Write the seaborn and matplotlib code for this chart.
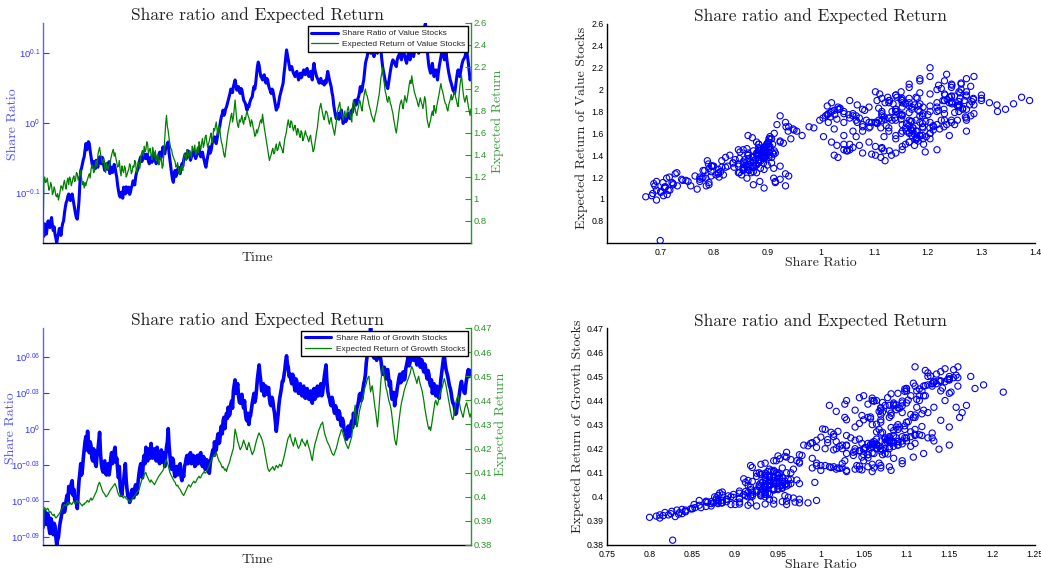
import numpy as np
import matplotlib
matplotlib.use("Agg")
import matplotlib.pyplot as plt
import matplotlib.ticker as mticker
from matplotlib.lines import Line2D
import seaborn as sns

# ---------------------------------------------------------------- data
# Share ratio and expected return of value stocks, one value per time step
value_share = [
    0.700, 0.688, 0.717, 0.705, 0.693, 0.712, 0.724, 0.715, 0.708, 0.722, 0.732, 0.713, 0.701, 0.710, 0.693, 0.684, 0.673, 0.686, 0.693, 0.706, 0.701, 0.690, 0.708, 0.718, 0.724, 0.742, 0.757, 0.769, 0.774, 0.785, 0.791, 0.780, 0.774, 0.786, 0.791, 0.778, 0.765, 0.752, 0.740, 0.731, 0.728, 0.748, 0.774, 0.818, 0.855, 0.862, 0.874, 0.886, 0.894, 0.915,
    0.934, 0.915, 0.924, 0.940, 0.934, 0.912, 0.894, 0.878, 0.864, 0.880, 0.874, 0.860, 0.884, 0.872, 0.864, 0.885, 0.894, 0.880, 0.874, 0.893, 0.884, 0.866, 0.855, 0.870, 0.874, 0.858, 0.864, 0.880, 0.846, 0.858, 0.864, 0.849, 0.855, 0.872, 0.864, 0.848, 0.836, 0.815, 0.800, 0.788, 0.783, 0.795, 0.796, 0.780, 0.809, 0.798, 0.791, 0.810, 0.804, 0.795,
    0.809, 0.790, 0.796, 0.808, 0.813, 0.826, 0.822, 0.815, 0.836, 0.848, 0.855, 0.862, 0.874, 0.887, 0.894, 0.880, 0.884, 0.898, 0.903, 0.890, 0.889, 0.902, 0.899, 0.880, 0.874, 0.886, 0.894, 0.878, 0.884, 0.898, 0.903, 0.885, 0.874, 0.892, 0.884, 0.900, 0.908, 0.888, 0.894, 0.912, 0.924, 0.910, 0.903, 0.918, 0.924, 0.935, 0.939, 0.905, 0.884, 0.862,
    0.846, 0.830, 0.822, 0.840, 0.855, 0.838, 0.846, 0.858, 0.864, 0.852, 0.846, 0.862, 0.874, 0.866, 0.884, 0.896, 0.903, 0.888, 0.894, 0.912, 0.908, 0.895, 0.884, 0.893, 0.899, 0.906, 0.913, 0.898, 0.889, 0.896, 0.903, 0.915, 0.924, 0.905, 0.894, 0.900, 0.908, 0.893, 0.884, 0.872, 0.864, 0.880, 0.894, 0.910, 0.924, 0.905, 0.913, 0.930, 0.944, 0.948,
    0.955, 0.940, 0.934, 0.950, 0.965, 0.978, 0.987, 1.005, 1.020, 1.030, 1.043, 1.025, 1.032, 1.048, 1.054, 1.066, 1.078, 1.092, 1.102, 1.118, 1.114, 1.105, 1.127, 1.140, 1.152, 1.133, 1.114, 1.122, 1.127, 1.108, 1.102, 1.120, 1.114, 1.095, 1.078, 1.072, 1.066, 1.052, 1.043, 1.060, 1.054, 1.068, 1.078, 1.085, 1.090, 1.112, 1.127, 1.118, 1.140, 1.170,
    1.204, 1.222, 1.210, 1.185, 1.165, 1.160, 1.152, 1.168, 1.172, 1.150, 1.140, 1.158, 1.152, 1.132, 1.120, 1.112, 1.102, 1.118, 1.114, 1.095, 1.078, 1.060, 1.043, 1.050, 1.054, 1.072, 1.090, 1.102, 1.114, 1.128, 1.140, 1.175, 1.204, 1.240, 1.272, 1.250, 1.231, 1.210, 1.191, 1.196, 1.204, 1.190, 1.178, 1.172, 1.165, 1.180, 1.185, 1.168, 1.152, 1.170,
    1.178, 1.160, 1.165, 1.182, 1.191, 1.175, 1.172, 1.190, 1.197, 1.178, 1.165, 1.180, 1.185, 1.165, 1.152, 1.195, 1.217, 1.192, 1.178, 1.165, 1.158, 1.150, 1.140, 1.152, 1.158, 1.140, 1.146, 1.138, 1.133, 1.150, 1.140, 1.165, 1.185, 1.170, 1.152, 1.140, 1.127, 1.105, 1.090, 1.060, 1.043, 1.025, 1.014, 1.026, 1.032, 1.012, 1.020, 1.035, 1.043, 1.018,
    0.998, 1.012, 1.020, 1.004, 1.009, 1.025, 1.032, 1.018, 1.014, 1.030, 1.043, 1.036, 1.054, 1.068, 1.078, 1.060, 1.066, 1.082, 1.090, 1.105, 1.127, 1.108, 1.114, 1.135, 1.152, 1.185, 1.217, 1.232, 1.244, 1.268, 1.286, 1.265, 1.258, 1.280, 1.272, 1.255, 1.244, 1.270, 1.286, 1.265, 1.258, 1.285, 1.300, 1.280, 1.272, 1.235, 1.204, 1.185, 1.165, 1.150,
    1.140, 1.128, 1.120, 1.142, 1.165, 1.185, 1.204, 1.220, 1.231, 1.225, 1.217, 1.210, 1.204, 1.230, 1.244, 1.250, 1.258, 1.240, 1.231, 1.255, 1.272, 1.258, 1.244, 1.228, 1.217, 1.240, 1.258, 1.245, 1.231, 1.262, 1.286, 1.262, 1.244, 1.260, 1.272, 1.285, 1.300, 1.278, 1.258, 1.282, 1.300, 1.315, 1.329, 1.345, 1.360, 1.375, 1.390, 1.330, 1.272, 1.235,
    1.204, 1.190, 1.178, 1.200, 1.217, 1.190, 1.165, 1.182, 1.191, 1.170, 1.152, 1.180, 1.204, 1.225, 1.244, 1.262, 1.272, 1.250, 1.231, 1.245, 1.258, 1.230, 1.204, 1.182, 1.165, 1.150, 1.140, 1.128, 1.114, 1.110, 1.102, 1.125, 1.152, 1.175, 1.191, 1.178, 1.165, 1.185, 1.204, 1.220, 1.231, 1.236, 1.244, 1.260, 1.272, 1.245, 1.217, 1.185, 1.152, 1.170,
]
value_return = [
    0.62, 1.14, 1.20, 1.15, 1.16, 1.19, 1.13, 1.08, 1.10, 1.15, 1.12, 1.04, 1.06, 1.11, 1.08, 1.03, 1.02, 1.05, 0.99, 1.03, 1.07, 1.12, 1.11, 1.08, 1.14, 1.17, 1.12, 1.09, 1.16, 1.19, 1.13, 1.20, 1.18, 1.12, 1.15, 1.19, 1.21, 1.16, 1.18, 1.24, 1.23, 1.17, 1.20, 1.22, 1.26, 1.19, 1.13, 1.16, 1.10, 1.15,
    1.12, 1.16, 1.18, 1.21, 1.23, 1.19, 1.27, 1.31, 1.30, 1.24, 1.25, 1.31, 1.35, 1.29, 1.40, 1.44, 1.47, 1.41, 1.38, 1.33, 1.33, 1.37, 1.29, 1.24, 1.33, 1.28, 1.27, 1.31, 1.32, 1.36, 1.40, 1.43, 1.45, 1.39, 1.42, 1.37, 1.33, 1.29, 1.30, 1.35, 1.26, 1.21, 1.30, 1.26, 1.24, 1.30, 1.28, 1.20, 1.22, 1.25,
    1.27, 1.32, 1.30, 1.23, 1.25, 1.30, 1.29, 1.35, 1.33, 1.24, 1.27, 1.34, 1.31, 1.28, 1.38, 1.42, 1.44, 1.39, 1.48, 1.43, 1.45, 1.52, 1.50, 1.41, 1.44, 1.46, 1.40, 1.36, 1.47, 1.42, 1.38, 1.44, 1.35, 1.39, 1.40, 1.31, 1.33, 1.38, 1.37, 1.28, 1.30, 1.42, 1.55, 1.68, 1.76, 1.66, 1.62, 1.55, 1.50, 1.46,
    1.45, 1.40, 1.38, 1.36, 1.34, 1.29, 1.30, 1.33, 1.27, 1.22, 1.24, 1.29, 1.30, 1.26, 1.36, 1.41, 1.40, 1.35, 1.45, 1.41, 1.38, 1.44, 1.42, 1.37, 1.48, 1.45, 1.44, 1.49, 1.40, 1.43, 1.47, 1.42, 1.52, 1.48, 1.45, 1.51, 1.55, 1.47, 1.50, 1.56, 1.58, 1.52, 1.47, 1.50, 1.53, 1.57, 1.60, 1.51, 1.55, 1.64,
    1.62, 1.66, 1.70, 1.63, 1.58, 1.66, 1.65, 1.57, 1.52, 1.49, 1.45, 1.40, 1.38, 1.44, 1.50, 1.57, 1.62, 1.66, 1.70, 1.75, 1.78, 1.70, 1.74, 1.82, 1.90, 1.80, 1.72, 1.67, 1.65, 1.72, 1.70, 1.73, 1.76, 1.70, 1.68, 1.74, 1.72, 1.77, 1.80, 1.76, 1.74, 1.70, 1.66, 1.72, 1.70, 1.65, 1.62, 1.57, 1.58, 1.63,
    1.60, 1.64, 1.66, 1.70, 1.72, 1.69, 1.77, 1.71, 1.65, 1.60, 1.55, 1.50, 1.45, 1.40, 1.35, 1.38, 1.40, 1.44, 1.46, 1.41, 1.42, 1.47, 1.50, 1.44, 1.45, 1.49, 1.52, 1.48, 1.47, 1.44, 1.42, 1.49, 1.55, 1.58, 1.62, 1.68, 1.72, 1.67, 1.65, 1.71, 1.70, 1.66, 1.62, 1.65, 1.67, 1.62, 1.58, 1.64, 1.62, 1.58,
    1.56, 1.62, 1.60, 1.53, 1.55, 1.59, 1.62, 1.58, 1.57, 1.54, 1.52, 1.56, 1.58, 1.52, 1.48, 1.43, 1.45, 1.50, 1.55, 1.61, 1.65, 1.73, 1.80, 1.84, 1.87, 1.82, 1.78, 1.74, 1.72, 1.77, 1.80, 1.79, 1.76, 1.71, 1.68, 1.72, 1.74, 1.69, 1.65, 1.62, 1.58, 1.64, 1.70, 1.77, 1.82, 1.85, 1.88, 1.82, 1.78, 1.75,
    1.72, 1.77, 1.80, 1.74, 1.76, 1.81, 1.84, 1.79, 1.78, 1.73, 1.70, 1.83, 1.90, 1.86, 1.82, 1.78, 1.76, 1.81, 1.84, 1.90, 1.88, 1.83, 1.80, 1.87, 1.92, 1.97, 2.00, 1.95, 1.94, 1.90, 1.86, 1.83, 1.80, 1.76, 1.74, 1.72, 1.70, 1.75, 1.78, 1.82, 1.86, 1.91, 1.95, 2.03, 2.10, 2.14, 2.20, 2.10, 2.05, 1.98,
    1.95, 1.90, 1.88, 1.93, 1.92, 1.87, 1.85, 1.81, 1.78, 1.72, 1.68, 1.63, 1.60, 1.66, 1.72, 1.79, 1.85, 1.88, 1.90, 1.85, 1.82, 1.89, 1.94, 1.90, 1.88, 1.93, 1.98, 2.04, 2.08, 2.05, 2.12, 2.06, 2.02, 1.97, 1.95, 1.92, 1.90, 1.86, 1.84, 1.89, 1.92, 1.88, 1.86, 1.82, 1.87, 1.93, 1.90, 1.80, 1.72, 1.68,
    1.65, 1.69, 1.72, 1.77, 1.80, 1.76, 1.85, 1.81, 1.78, 1.84, 1.88, 1.92, 1.96, 2.01, 2.05, 2.00, 1.98, 1.94, 1.90, 1.87, 1.86, 1.82, 1.80, 1.85, 1.88, 1.91, 1.95, 1.90, 1.92, 1.96, 1.98, 1.93, 1.90, 1.86, 1.84, 1.93, 2.02, 2.08, 2.12, 2.04, 1.96, 1.91, 1.88, 1.92, 1.94, 1.89, 1.84, 1.80, 1.76, 1.82,
]

# Share ratio and expected return of growth stocks, one value per time step
growth_share = [
    0.827, 0.842, 0.853, 0.838, 0.832, 0.850, 0.848, 0.826, 0.818, 0.842, 0.838, 0.822, 0.816, 0.834, 0.830, 0.812, 0.800, 0.808, 0.812, 0.825, 0.835, 0.842, 0.850, 0.860, 0.866, 0.852, 0.858, 0.872, 0.880, 0.866, 0.895, 0.884, 0.885, 0.900, 0.905, 0.880, 0.890, 0.872, 0.875, 0.866, 0.858, 0.884, 0.905, 0.918, 0.935, 0.915, 0.925, 0.945, 0.960, 0.975,
    0.985, 0.960, 0.995, 0.970, 0.955, 0.975, 0.968, 0.945, 0.940, 0.962, 0.958, 0.935, 0.930, 0.950, 0.960, 0.975, 0.993, 0.955, 0.935, 0.925, 0.920, 0.938, 0.940, 0.918, 0.915, 0.930, 0.935, 0.915, 0.925, 0.945, 0.955, 0.935, 0.940, 0.958, 0.965, 0.938, 0.945, 0.925, 0.910, 0.930, 0.895, 0.885, 0.880, 0.898, 0.905, 0.920, 0.935, 0.905, 0.890, 0.878,
    0.880, 0.868, 0.872, 0.885, 0.890, 0.878, 0.876, 0.892, 0.898, 0.882, 0.885, 0.905, 0.918, 0.928, 0.935, 0.915, 0.910, 0.940, 0.950, 0.935, 0.965, 0.950, 0.940, 0.962, 0.958, 0.945, 0.972, 0.955, 0.945, 0.960, 0.962, 0.948, 0.940, 0.965, 0.955, 0.940, 0.935, 0.952, 0.960, 0.938, 0.945, 0.955, 0.930, 0.948, 0.965, 0.975, 1.000, 0.968, 0.950, 0.930,
    0.925, 0.945, 0.940, 0.920, 0.912, 0.928, 0.930, 0.915, 0.918, 0.932, 0.935, 0.912, 0.905, 0.920, 0.912, 0.930, 0.935, 0.945, 0.950, 0.935, 0.938, 0.952, 0.955, 0.935, 0.940, 0.950, 0.948, 0.930, 0.932, 0.945, 0.950, 0.935, 0.938, 0.952, 0.955, 0.935, 0.930, 0.948, 0.945, 0.925, 0.928, 0.942, 0.940, 0.920, 0.918, 0.935, 0.945, 0.952, 0.960, 0.950,
    0.975, 0.958, 0.960, 0.978, 0.990, 0.972, 0.975, 0.995, 1.005, 0.990, 1.015, 1.022, 1.000, 1.018, 1.030, 1.020, 1.042, 1.025, 1.028, 1.048, 1.055, 1.040, 1.075, 1.088, 1.098, 1.070, 1.080, 1.090, 1.065, 1.052, 1.050, 1.066, 1.068, 1.048, 1.040, 1.055, 1.030, 1.018, 1.015, 1.030, 1.008, 1.022, 1.025, 1.038, 1.050, 1.060, 1.070, 1.052, 1.060, 1.078,
    1.100, 1.115, 1.130, 1.110, 1.095, 1.075, 1.080, 1.090, 1.065, 1.078, 1.085, 1.068, 1.070, 1.082, 1.060, 1.048, 1.045, 1.062, 1.055, 1.040, 1.030, 1.012, 0.995, 1.010, 1.025, 1.045, 1.060, 1.070, 1.080, 1.095, 1.095, 1.108, 1.120, 1.138, 1.150, 1.132, 1.125, 1.105, 1.110, 1.098, 1.090, 1.110, 1.105, 1.085, 1.075, 1.100, 1.095, 1.080, 1.070, 1.085,
    1.090, 1.070, 1.065, 1.082, 1.085, 1.062, 1.060, 1.078, 1.080, 1.062, 1.058, 1.072, 1.075, 1.055, 1.050, 1.072, 1.080, 1.058, 1.062, 1.078, 1.085, 1.065, 1.068, 1.082, 1.090, 1.065, 1.070, 1.088, 1.105, 1.118, 1.130, 1.095, 1.075, 1.065, 1.060, 1.050, 1.045, 1.062, 1.055, 1.038, 1.030, 1.045, 1.040, 1.025, 1.018, 1.035, 1.030, 1.012, 1.005, 1.020,
    1.015, 1.000, 0.995, 0.988, 0.980, 0.995, 1.005, 0.985, 0.990, 1.008, 1.015, 1.002, 1.030, 1.018, 1.010, 1.028, 1.040, 1.045, 1.055, 1.068, 1.070, 1.055, 1.060, 1.078, 1.090, 1.098, 1.110, 1.135, 1.150, 1.160, 1.175, 1.190, 1.213, 1.180, 1.160, 1.150, 1.145, 1.158, 1.165, 1.140, 1.150, 1.162, 1.170, 1.152, 1.140, 1.125, 1.110, 1.122, 1.125, 1.108,
    1.100, 1.118, 1.120, 1.102, 1.085, 1.095, 1.070, 1.058, 1.060, 1.072, 1.045, 1.060, 1.065, 1.080, 1.090, 1.102, 1.110, 1.092, 1.095, 1.112, 1.115, 1.098, 1.100, 1.122, 1.130, 1.140, 1.150, 1.128, 1.135, 1.155, 1.160, 1.145, 1.140, 1.158, 1.155, 1.138, 1.130, 1.148, 1.150, 1.132, 1.125, 1.142, 1.140, 1.122, 1.115, 1.132, 1.125, 1.108, 1.100, 1.118,
    1.110, 1.092, 1.085, 1.098, 1.070, 1.082, 1.090, 1.072, 1.065, 1.085, 1.080, 1.062, 1.060, 1.082, 1.100, 1.115, 1.130, 1.145, 1.150, 1.132, 1.120, 1.112, 1.105, 1.095, 1.085, 1.080, 1.070, 1.058, 1.050, 1.048, 1.040, 1.028, 1.030, 1.045, 1.050, 1.062, 1.075, 1.088, 1.095, 1.082, 1.080, 1.072, 1.070, 1.088, 1.100, 1.112, 1.120, 1.105, 1.110, 1.118,
]
growth_return = [
    0.3820, 0.3940, 0.3955, 0.3948, 0.3945, 0.3952, 0.3950, 0.3940, 0.3935, 0.3938, 0.3930, 0.3925, 0.3922, 0.3928, 0.3918, 0.3912, 0.3915, 0.3920, 0.3925, 0.3930, 0.3935, 0.3945, 0.3950, 0.3955, 0.3960, 0.3968, 0.3965, 0.3962, 0.3972, 0.3978, 0.3968, 0.3975, 0.3975, 0.3968, 0.3970, 0.3978, 0.3980, 0.3972, 0.3975, 0.3982, 0.3985, 0.3976, 0.3978, 0.3975, 0.3970, 0.3965, 0.3962, 0.3970, 0.3968, 0.3975,
    0.3975, 0.3982, 0.3985, 0.3978, 0.3980, 0.3990, 0.3995, 0.3986, 0.3990, 0.3998, 0.4005, 0.4012, 0.4020, 0.4030, 0.4045, 0.4055, 0.4060, 0.4048, 0.4040, 0.4028, 0.4020, 0.4015, 0.4010, 0.4002, 0.4000, 0.4006, 0.4010, 0.4018, 0.4025, 0.4030, 0.4035, 0.4040, 0.4045, 0.4050, 0.4055, 0.4045, 0.4035, 0.4020, 0.4010, 0.4004, 0.4000, 0.4008, 0.4005, 0.3998, 0.3995, 0.4002, 0.4000, 0.3992, 0.3990, 0.3988,
    0.3985, 0.3978, 0.3980, 0.3986, 0.3990, 0.3995, 0.4000, 0.4004, 0.4010, 0.4016, 0.4020, 0.4024, 0.4030, 0.4042, 0.4055, 0.4068, 0.4075, 0.4082, 0.4090, 0.4098, 0.4100, 0.4088, 0.4080, 0.4072, 0.4065, 0.4060, 0.4070, 0.4064, 0.4060, 0.4055, 0.4050, 0.4058, 0.4065, 0.4072, 0.4080, 0.4085, 0.4090, 0.4095, 0.4100, 0.4105, 0.4110, 0.4120, 0.4135, 0.4150, 0.4155, 0.4140, 0.4130, 0.4115, 0.4100, 0.4092,
    0.4085, 0.4078, 0.4070, 0.4064, 0.4060, 0.4050, 0.4045, 0.4048, 0.4040, 0.4034, 0.4030, 0.4022, 0.4015, 0.4010, 0.4005, 0.4012, 0.4020, 0.4028, 0.4035, 0.4044, 0.4050, 0.4045, 0.4040, 0.4048, 0.4055, 0.4060, 0.4065, 0.4058, 0.4060, 0.4068, 0.4075, 0.4080, 0.4085, 0.4078, 0.4080, 0.4090, 0.4095, 0.4100, 0.4105, 0.4098, 0.4100, 0.4108, 0.4115, 0.4122, 0.4130, 0.4140, 0.4150, 0.4158, 0.4165, 0.4170,
    0.4175, 0.4168, 0.4185, 0.4172, 0.4160, 0.4150, 0.4145, 0.4140, 0.4130, 0.4120, 0.4125, 0.4118, 0.4110, 0.4115, 0.4105, 0.4120, 0.4130, 0.4138, 0.4150, 0.4165, 0.4175, 0.4190, 0.4200, 0.4245, 0.4280, 0.4265, 0.4250, 0.4230, 0.4220, 0.4205, 0.4195, 0.4202, 0.4210, 0.4222, 0.4235, 0.4222, 0.4215, 0.4200, 0.4195, 0.4212, 0.4225, 0.4210, 0.4200, 0.4185, 0.4175, 0.4182, 0.4190, 0.4205, 0.4220, 0.4235,
    0.4245, 0.4258, 0.4265, 0.4255, 0.4250, 0.4240, 0.4230, 0.4215, 0.4200, 0.4178, 0.4160, 0.4140, 0.4120, 0.4110, 0.4105, 0.4112, 0.4115, 0.4120, 0.4125, 0.4115, 0.4110, 0.4122, 0.4130, 0.4125, 0.4120, 0.4128, 0.4135, 0.4130, 0.4125, 0.4138, 0.4150, 0.4165, 0.4180, 0.4198, 0.4215, 0.4232, 0.4245, 0.4250, 0.4260, 0.4245, 0.4230, 0.4222, 0.4210, 0.4228, 0.4245, 0.4232, 0.4220, 0.4208, 0.4200, 0.4210,
    0.4215, 0.4232, 0.4240, 0.4228, 0.4225, 0.4218, 0.4210, 0.4225, 0.4235, 0.4218, 0.4205, 0.4195, 0.4180, 0.4162, 0.4150, 0.4175, 0.4200, 0.4218, 0.4230, 0.4242, 0.4255, 0.4270, 0.4280, 0.4288, 0.4300, 0.4302, 0.4310, 0.4290, 0.4270, 0.4255, 0.4245, 0.4232, 0.4225, 0.4218, 0.4210, 0.4200, 0.4190, 0.4180, 0.4175, 0.4172, 0.4180, 0.4192, 0.4200, 0.4215, 0.4230, 0.4245, 0.4255, 0.4268, 0.4280, 0.4272,
    0.4260, 0.4248, 0.4235, 0.4222, 0.4215, 0.4205, 0.4200, 0.4212, 0.4225, 0.4238, 0.4250, 0.4282, 0.4320, 0.4355, 0.4380, 0.4330, 0.4290, 0.4305, 0.4330, 0.4355, 0.4370, 0.4385, 0.4400, 0.4412, 0.4430, 0.4448, 0.4460, 0.4470, 0.4485, 0.4495, 0.4500, 0.4465, 0.4435, 0.4450, 0.4460, 0.4430, 0.4400, 0.4372, 0.4350, 0.4318, 0.4290, 0.4330, 0.4380, 0.4435, 0.4480, 0.4515, 0.4540, 0.4525, 0.4500, 0.4472,
    0.4450, 0.4440, 0.4420, 0.4402, 0.4390, 0.4378, 0.4360, 0.4332, 0.4300, 0.4268, 0.4240, 0.4225, 0.4215, 0.4245, 0.4280, 0.4312, 0.4340, 0.4368, 0.4390, 0.4405, 0.4420, 0.4438, 0.4450, 0.4462, 0.4470, 0.4482, 0.4490, 0.4502, 0.4510, 0.4528, 0.4540, 0.4532, 0.4520, 0.4505, 0.4495, 0.4482, 0.4470, 0.4488, 0.4500, 0.4480, 0.4465, 0.4452, 0.4440, 0.4420, 0.4400, 0.4372, 0.4350, 0.4330, 0.4310, 0.4292,
    0.4280, 0.4290, 0.4275, 0.4295, 0.4320, 0.4348, 0.4370, 0.4392, 0.4400, 0.4385, 0.4380, 0.4398, 0.4410, 0.4428, 0.4440, 0.4448, 0.4460, 0.4478, 0.4490, 0.4475, 0.4460, 0.4440, 0.4420, 0.4398, 0.4380, 0.4360, 0.4340, 0.4325, 0.4320, 0.4338, 0.4360, 0.4385, 0.4400, 0.4412, 0.4420, 0.4398, 0.4380, 0.4362, 0.4350, 0.4338, 0.4330, 0.4352, 0.4370, 0.4382, 0.4390, 0.4372, 0.4360, 0.4342, 0.4330, 0.4345,
]

# axis ticks
value_share_exp = [-0.1, 0.0, 0.1]
growth_share_exp = [-0.09, -0.06, -0.03, 0.0, 0.03, 0.06]
value_return_ticks = [0.8, 1.0, 1.2, 1.4, 1.6, 1.8, 2.0, 2.2, 2.4, 2.6]
growth_return_ticks = [0.38, 0.39, 0.40, 0.41, 0.42, 0.43, 0.44, 0.45, 0.46, 0.47]
value_scatter_xticks = [0.7, 0.8, 0.9, 1.0, 1.1, 1.2, 1.3, 1.4]
growth_scatter_xticks = [0.75, 0.80, 0.85, 0.90, 0.95, 1.00, 1.05, 1.10, 1.15, 1.20, 1.25]

TITLE = "Share ratio and Expected Return"

# ---------------------------------------------------------------- style
sns.set_theme(style="white")
plt.rcParams["font.family"] = ["Liberation Sans", "DejaVu Sans"]
plt.rcParams["mathtext.default"] = "regular"
plt.rcParams["xtick.direction"] = "in"
plt.rcParams["ytick.direction"] = "in"
plt.rcParams["axes.linewidth"] = 1.0

SERIF = "cmr10"
BLUE = "#0000ff"
GREEN = "#008000"
AX_BLUE = "#6060ff"
LBL_BLUE = "#3535ff"
AX_GREEN = "#2a962a"
TICK_SIZE = 6.3


def fmt_num(v):
    return f"{v:.2f}".rstrip("0").rstrip(".")


def time_panel(ax, share, ret, exps, rticks, rlim, names, share_lw, left_lbl_x, right_lbl_x):
    n = min(len(share), len(ret))
    share, ret = share[:n], ret[:n]
    t = np.arange(n)
    sns.lineplot(x=t, y=share, ax=ax, color=BLUE, linewidth=share_lw, legend=False)
    ax.set_yscale("log")
    ax.set_ylim(min(share), max(share))
    ax.set_yticks([10 ** e for e in exps])
    ax.set_yticklabels([rf"$10^{{{fmt_num(e) if e != 0 else '0'}}}$" for e in exps])
    ax.yaxis.set_minor_locator(mticker.NullLocator())
    ax.set_xlim(0, n - 1)
    ax.set_xticks(np.linspace(0, n - 1, 11))
    ax.set_xticklabels([])
    ax.tick_params(axis="y", colors=LBL_BLUE, labelsize=TICK_SIZE + 0.5, length=4, width=0.8, pad=2)
    ax.tick_params(axis="x", length=4, width=0.8, colors="black")
    ax.spines["left"].set_color(AX_BLUE)
    ax.spines["bottom"].set_color("black")
    for s in ("top", "right"):
        ax.spines[s].set_visible(False)
    ax.set_ylabel("Share Ratio", family=SERIF, fontsize=10, color="#5555ff")
    ax.yaxis.set_label_coords(left_lbl_x, 0.54)
    ax.set_xlabel("Time", family=SERIF, fontsize=10, color="#222222", labelpad=3)
    ax.set_title(TITLE, family=SERIF, fontsize=12.5, color="#222222", pad=2)

    axr = ax.twinx()
    sns.lineplot(x=t, y=ret, ax=axr, color=GREEN, linewidth=0.9, legend=False)
    axr.set_ylim(*rlim)
    axr.set_yticks(rticks)
    axr.set_yticklabels([fmt_num(v) for v in rticks])
    axr.tick_params(axis="y", colors=AX_GREEN, labelsize=TICK_SIZE + 0.5, length=4, width=0.8, pad=2)
    axr.set_ylabel("Expected Return", family=SERIF, fontsize=10, color="#3c9c3c")
    axr.yaxis.set_label_coords(right_lbl_x, 0.555)
    for s in ("top", "left", "bottom"):
        axr.spines[s].set_visible(False)
    axr.spines["right"].set_color(AX_GREEN)

    handles = [Line2D([], [], color=BLUE, lw=2.2), Line2D([], [], color=GREEN, lw=0.9)]
    leg = axr.legend(handles, names, loc="upper right", bbox_to_anchor=(0.994, 0.985),
                     borderaxespad=0, fontsize=6, frameon=True, fancybox=False,
                     edgecolor="black", handlelength=3.2, borderpad=0.4,
                     labelspacing=0.35, handletextpad=0.5, framealpha=1)
    leg.get_frame().set_linewidth(1.0)


def scatter_panel(ax, share, ret, xticks, xlim, yticks, ylim, ylabel, lbl_x, lbl_y):
    n = min(len(share), len(ret))
    sns.scatterplot(x=share[:n], y=ret[:n], ax=ax, marker="o", s=20, color=BLUE, linewidth=0.8)
    coll = ax.collections[0]
    coll.set_facecolor("none")
    coll.set_edgecolor(BLUE)
    ax.set_xlim(*xlim)
    ax.set_ylim(*ylim)
    ax.set_xticks(xticks)
    ax.set_xticklabels([fmt_num(v) for v in xticks])
    ax.set_yticks(yticks)
    ax.set_yticklabels([fmt_num(v) for v in yticks])
    ax.tick_params(labelsize=TICK_SIZE, length=4, width=0.8, colors="black")
    ax.tick_params(axis="x", pad=3.5)
    ax.tick_params(axis="y", pad=2)
    for s in ("top", "right"):
        ax.spines[s].set_visible(False)
    for s in ("left", "bottom"):
        ax.spines[s].set_color("black")
    ax.set_xlabel("Share Ratio", family=SERIF, fontsize=10, color="#222222", labelpad=0)
    ax.set_ylabel(ylabel, family=SERIF, fontsize=10, color="#222222")
    ax.yaxis.set_label_coords(lbl_x, lbl_y)
    ax.set_title(TITLE, family=SERIF, fontsize=12.5, color="#222222", pad=2)


fig = plt.figure(figsize=(10.41, 5.75), dpi=100)
ax_v = fig.add_axes([0.0413, 0.5774, 0.4111, 0.3826])
ax_g = fig.add_axes([0.0413, 0.0522, 0.4111, 0.3774])
ax_vs = fig.add_axes([0.5828, 0.5779, 0.4114, 0.3804])
ax_gs = fig.add_axes([0.5828, 0.0522, 0.4114, 0.3768])

time_panel(ax_v, value_share, value_return, value_share_exp, value_return_ticks, (0.6, 2.6),
           ["Share Ratio of Value Stocks", "Expected Return of Value Stocks"], 2.2,
           -0.056, 1.047)
time_panel(ax_g, growth_share, growth_return, growth_share_exp, growth_return_ticks, (0.38, 0.47),
           ["Share Ratio of Growth Stocks", "Expected Return of Growth Stocks"], 2.6,
           -0.061, 1.054)

scatter_panel(ax_vs, value_share, value_return, value_scatter_xticks, (0.6, 1.4),
              value_return_ticks, (0.6, 2.6), "Expected Return of Value Stocks", -0.044, 0.527)
scatter_panel(ax_gs, growth_share, growth_return, growth_scatter_xticks, (0.75, 1.25),
              growth_return_ticks, (0.38, 0.47), "Expected Return of Growth Stocks", -0.052, 0.547)

fig.savefig("out.png", dpi=100, facecolor="white")
